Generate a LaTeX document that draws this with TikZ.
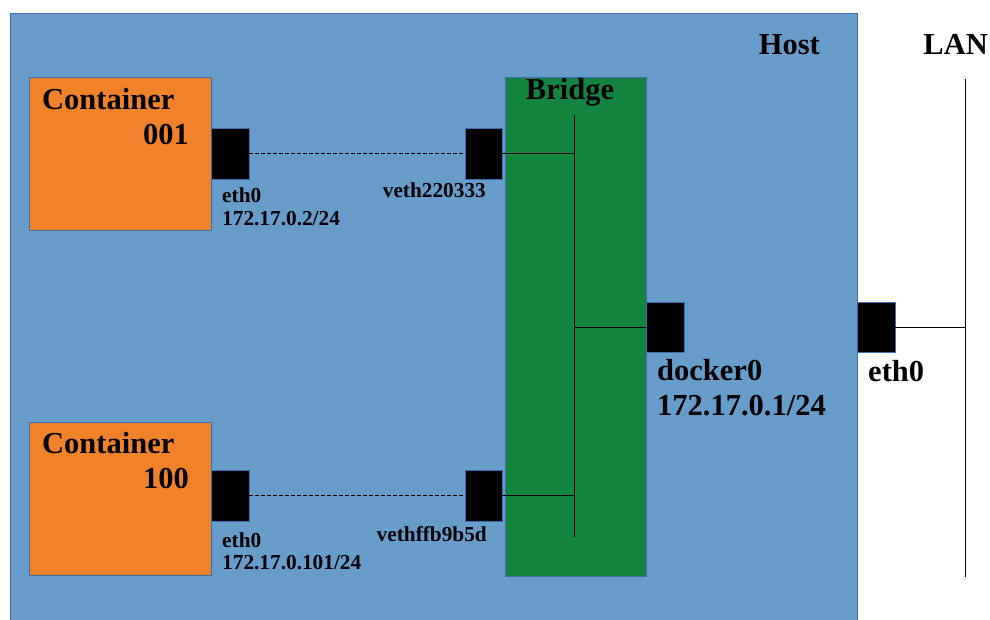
\documentclass[tikz,border=0pt]{standalone}
\usepackage{fontspec}
\setmainfont{Liberation Serif}
\definecolor{hostblue}{RGB}{104,156,203}
\definecolor{edgeblue}{RGB}{58,110,175}
\definecolor{ctorange}{RGB}{242,130,41}
\definecolor{brgreen}{RGB}{19,133,64}
\tikzset{
  box/.style={draw=edgeblue, line width=0.8pt, rectangle, inner sep=0pt, anchor=north west},
  port/.style={draw=edgeblue, line width=0.8pt, fill=black, rectangle, inner sep=0pt,
               minimum width=38pt, minimum height=51pt},
  bigtxt/.style={font=\fontsize{30.5}{32}\selectfont\bfseries, inner sep=0pt},
  smalltxt/.style={font=\fontsize{21.3}{23}\selectfont\bfseries, inner sep=0pt},
  wire/.style={line width=0.9pt, black},
  vlink/.style={line width=0.9pt, black, dash pattern=on 3.5pt off 2.5pt},
}
\begin{document}
\begin{tikzpicture}[x=1pt, y=-1pt]
\useasboundingbox (0,0) rectangle (990,620);
\begin{scope}
\clip (0,0) rectangle (990,620);

% host machine
\node[box, fill=hostblue, minimum width=847pt, minimum height=615pt] (host) at (10,13) {};
\node[bigtxt, anchor=base east] (hostlbl) at (820,55) {Host};
\node[bigtxt, anchor=base east] (lanlbl) at (988,55) {LAN};

% containers
\node[box, fill=ctorange, minimum width=182pt, minimum height=153pt] (c1) at (29,77) {};
\node[bigtxt, anchor=base west] (c1a) at (42,110) {Container};
\node[bigtxt, anchor=base east] (c1b) at (189,145) {001};
\node[box, fill=ctorange, minimum width=182pt, minimum height=153pt] (c2) at (29,422) {};
\node[bigtxt, anchor=base west] (c2a) at (42,453) {Container};
\node[bigtxt, anchor=base east] (c2b) at (189,488) {100};

% bridge
\node[box, fill=brgreen, minimum width=141pt, minimum height=499pt] (br) at (505,77) {};
\node[bigtxt, anchor=base] (brlbl) at (570,100) {Bridge};
\coordinate (busT) at (574,115);
\coordinate (busB) at (574,537);
\draw[wire] (busT) -- (busB);

% LAN segment
\coordinate (lanT) at (965,79);
\coordinate (lanB) at (965,577);
\draw[wire] (lanT) -- (lanB);

% interfaces
\node[port] (eth1) at (230,153.5) {};
\node[port, minimum width=37pt] (veth1) at (483.5,153.5) {};
\node[port] (eth2) at (230,495.5) {};
\node[port, minimum width=37pt] (veth2) at (483.5,495.5) {};
\node[port, minimum height=50pt] (dock) at (665,327) {};
\node[port, minimum height=50pt] (heth) at (876,327) {};

% links
\draw[vlink] (eth1.east) -- (veth1.west);
\draw[vlink] (eth2.east) -- (veth2.west);
\draw[wire] (veth1.east) -- (veth1.east -| busT);
\draw[wire] (veth2.east) -- (veth2.east -| busT);
\draw[wire] (dock.west) -- (dock.west -| busT);
\draw[wire] (heth.east) -- (heth.east -| lanT);

% interface labels
\node[smalltxt, anchor=base west] (l1a) at (222,203) {eth0};
\node[smalltxt, anchor=base west] (l1b) at (222,226) {172.17.0.2/24};
\node[smalltxt, anchor=base east] (l1c) at (486,198) {veth220333};
\node[smalltxt, anchor=base west] (l2a) at (222,547) {eth0};
\node[smalltxt, anchor=base west] (l2b) at (222,569) {172.17.0.101/24};
\node[smalltxt, anchor=base east] (l2c) at (487,541) {vethffb9b5d};
\node[bigtxt, anchor=base west] (dlbl) at (657,380) {docker0};
\node[bigtxt, anchor=base west] (dip) at (657,415) {172.17.0.1/24};
\node[bigtxt, anchor=base west] (hlbl) at (868,381) {eth0};
\end{scope}
\end{tikzpicture}
\end{document}
